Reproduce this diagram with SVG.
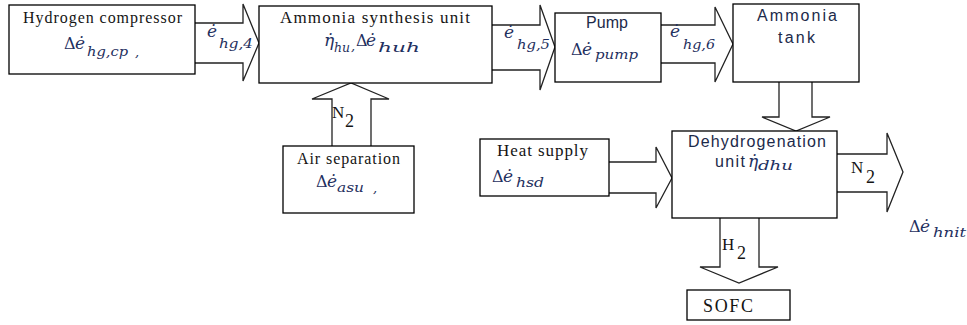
<svg xmlns="http://www.w3.org/2000/svg" width="967" height="325" viewBox="0 0 967 325">
<style>
.box{fill:#fff;stroke:#000;stroke-width:1.3}
.arr{fill:#fff;stroke:#222;stroke-width:1.3;stroke-linejoin:miter}
.serif{font-family:"Liberation Serif","Times New Roman",serif;fill:#141414}
.sans{font-family:"Liberation Sans",Arial,sans-serif;fill:#1c2a4a}
.m{font-family:"DejaVu Serif","Liberation Serif",serif;font-style:italic;fill:#1f3060}
.mu{font-family:"DejaVu Serif","Liberation Serif",serif;fill:#1f3060}
</style>
<rect width="967" height="325" fill="#fff"/>
<g id="connectors">
<path class="arr" d="M195,23 H243 V4 L259,43 L243,81 V63 H195"/>
<path class="arr" d="M492,25 H540 V5 L555,47 L540,90 V70 H492"/>
<path class="arr" d="M661,25 H715 V7 L733,44 L715,82 V63 H661"/>
<path class="arr" d="M779,82 V117 H762 L796,131 L830,117 H812 V82"/>
<path class="arr" d="M609,162 H656 V147 L672,178 L656,208 V193 H609"/>
<path class="arr" d="M837,154 H887 V133 L903,172 L887,212 V192 H837"/>
<path class="arr" d="M720,218 V267 H700 L739,283 L778,267 H759 V218"/>
<path class="arr" d="M332,146 V99 H312 L351,83 L389,99 H371 V146"/>
<g id="label-hg4"><text class="m" x="207" y="37" font-size="17">ė</text><text class="m" x="219" y="48" font-size="13" textLength="34" lengthAdjust="spacingAndGlyphs">hg,4</text></g>
<g id="label-hg5"><text class="m" x="504" y="38" font-size="17">ė</text><text class="m" x="517" y="49" font-size="13" textLength="33" lengthAdjust="spacingAndGlyphs">hg,5</text></g>
<g id="label-hg6"><text class="m" x="670" y="37" font-size="17">ė</text><text class="m" x="683" y="49" font-size="13" textLength="32" lengthAdjust="spacingAndGlyphs">hg,6</text></g>
<g id="label-n2-up"><text class="serif" x="332" y="118" font-size="17">N</text><text class="serif" x="345" y="127" font-size="18">2</text></g>
<g id="label-n2-out"><text class="serif" x="851" y="173" font-size="17">N</text><text class="serif" x="866" y="183" font-size="18">2</text></g>
<g id="label-h2"><text class="serif" x="722" y="250" font-size="17">H</text><text class="serif" x="737" y="259" font-size="18">2</text></g>
<g id="label-hnit"><text class="mu" x="909" y="232" font-size="16">Δ</text><text class="m" x="920" y="232" font-size="17">ė</text><text class="m" x="933" y="237" font-size="13" textLength="33" lengthAdjust="spacingAndGlyphs">hnit</text></g>
</g>
<g id="hydrogen-compressor">
<rect class="box" x="9" y="5" width="186" height="69"/>
<text class="serif" x="23" y="23" font-size="16" textLength="159" lengthAdjust="spacing">Hydrogen compressor</text>
<text class="mu" x="64" y="49" font-size="16">Δ</text><text class="m" x="75" y="49" font-size="17">ė</text>
<text class="m" x="87" y="56" font-size="13" textLength="41" lengthAdjust="spacingAndGlyphs">hg,cp</text>
<text class="m" x="135" y="56" font-size="13">,</text>
</g>
<g id="ammonia-synthesis">
<rect class="box" x="259" y="6" width="233" height="77"/>
<text class="serif" x="280" y="23" font-size="17" textLength="190" lengthAdjust="spacing">Ammonia synthesis unit</text>
<text class="m" x="324" y="46" font-size="17">η̇</text>
<text class="m" x="334" y="52" font-size="13" textLength="16" lengthAdjust="spacingAndGlyphs">hu</text>
<text class="m" x="351" y="50" font-size="13">,</text>
<text class="mu" x="356" y="46" font-size="16">Δ</text><text class="m" x="366" y="46" font-size="17">ė</text>
<text class="m" x="378" y="52" font-size="13" textLength="42" lengthAdjust="spacingAndGlyphs">huh</text>
</g>
<g id="pump">
<rect class="box" x="555" y="13" width="106" height="69"/>
<text class="sans" x="607" y="28" font-size="16" text-anchor="middle">Pump</text>
<text class="mu" x="571" y="55" font-size="16">Δ</text><text class="m" x="582" y="55" font-size="17">ė</text>
<text class="m" x="595" y="59" font-size="13" textLength="43" lengthAdjust="spacingAndGlyphs">pump</text>
</g>
<g id="ammonia-tank">
<rect class="box" x="733" y="4" width="126" height="78"/>
<text class="sans" x="757" y="21" font-size="16" textLength="80" lengthAdjust="spacing">Ammonia</text>
<text class="sans" x="778" y="43" font-size="16" textLength="37" lengthAdjust="spacing">tank</text>
</g>
<g id="air-separation">
<rect class="box" x="283" y="146" width="131" height="67"/>
<text class="serif" x="297" y="164" font-size="16" textLength="103" lengthAdjust="spacing">Air separation</text>
<text class="mu" x="316" y="187" font-size="16">Δ</text><text class="m" x="327" y="187" font-size="17">ė</text>
<text class="m" x="337" y="192" font-size="13" textLength="27" lengthAdjust="spacingAndGlyphs">asu</text>
<text class="m" x="373" y="192" font-size="13">,</text>
</g>
<g id="heat-supply">
<rect class="box" x="480" y="139" width="129" height="57"/>
<text class="serif" x="497" y="156" font-size="17" textLength="91" lengthAdjust="spacing">Heat supply</text>
<text class="mu" x="492" y="182" font-size="16">Δ</text><text class="m" x="503" y="182" font-size="17">ė</text>
<text class="m" x="516" y="187" font-size="13" textLength="28" lengthAdjust="spacingAndGlyphs">hsd</text>
</g>
<g id="dehydrogenation">
<rect class="box" x="672" y="131" width="165" height="87"/>
<text class="sans" x="688" y="147" font-size="16" textLength="138" lengthAdjust="spacing">Dehydrogenation</text>
<text class="sans" x="715" y="167" font-size="16" textLength="30" lengthAdjust="spacing">unit</text>
<text class="m" x="748" y="167" font-size="17">η̇</text>
<text class="m" x="758" y="170" font-size="13" textLength="35" lengthAdjust="spacingAndGlyphs">dhu</text>
</g>
<g id="sofc">
<rect class="box" x="687" y="290" width="103" height="30"/>
<text class="serif" x="703" y="312" font-size="18" textLength="50" lengthAdjust="spacing">SOFC</text>
</g>
</svg>
